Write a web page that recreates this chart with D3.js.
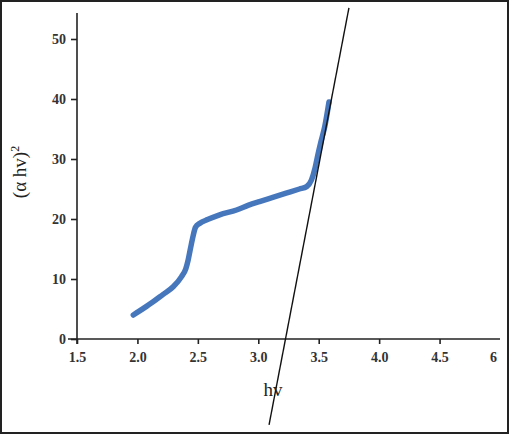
<!DOCTYPE html>
<html><head><meta charset="utf-8">
<script src="https://cdn.jsdelivr.net/npm/d3@7"></script>
<style>body{margin:0;background:#fff}svg{display:block}</style>
</head><body>
<svg id="c" width="510" height="435"></svg>
<script>
const xTicks = [1.5, 2.0, 2.5, 3.0, 3.5, 4.0, 4.5, 5.0];
const xTickLabels = ["1.5", "2.0", "2.5", "3.0", "3.5", "4.0", "4.5", "6"];
const yTicks = [0, 10, 20, 30, 40, 50];
const curveX = [1.966, 2.05, 2.13, 2.21, 2.296, 2.365, 2.40, 2.42, 2.44, 2.46, 2.48, 2.517, 2.58, 2.68, 2.82, 2.92, 3.01, 3.12, 3.23, 3.34, 3.40, 3.44, 3.47, 3.49, 3.52, 3.55, 3.585];
const curveY = [4.0, 5.1, 6.2, 7.4, 8.7, 10.4, 11.7, 13.2, 15.2, 17.1, 18.6, 19.3, 19.9, 20.7, 21.5, 22.3, 22.9, 23.6, 24.3, 25.0, 25.4, 26.5, 28.5, 30.4, 33.0, 35.4, 39.5];
const tangentX = [3.089, 3.75];
const tangentY = [-14.3, 55.2];

const svg = d3.select("#c");
const x = d3.scaleLinear().domain([1.5, 5.0]).range([77, 500]);
const y = d3.scaleLinear().domain([0, 50]).range([339, 39]);

svg.append("rect").attr("x",1).attr("y",1).attr("width",507).attr("height",432)
  .attr("fill","#fff").attr("stroke","#222").attr("stroke-width",2);

const font = "'Liberation Serif', 'Times New Roman', serif";

// axes
const xa = svg.append("g").attr("transform","translate(0,339)")
  .call(d3.axisBottom(x).tickValues(xTicks).tickFormat((d,i)=>xTickLabels[i]).tickSize(5).tickSizeOuter(0));
xa.select(".domain").attr("d","M68,0H500").attr("stroke","#222").attr("stroke-width",1.6);
xa.selectAll(".tick line").attr("stroke","#222").attr("stroke-width",1.6);
xa.selectAll(".tick").filter(d=>d===5.0).select("line").remove();
xa.selectAll(".tick").filter(d=>d===5.0).select("text").attr("x",-7);
xa.selectAll("text").attr("font-family",font).attr("font-size",14).attr("font-weight","bold")
  .attr("fill","#333").attr("dy","1.05em");

const ya = svg.append("g").attr("transform","translate(77,0)")
  .call(d3.axisLeft(y).tickValues(yTicks).tickSize(6).tickSizeOuter(0));
ya.select(".domain").attr("d","M0,13V344").attr("stroke","#222").attr("stroke-width",1.6);
ya.selectAll(".tick line").attr("stroke","#222").attr("stroke-width",1.6);
ya.selectAll("text").attr("font-family",font).attr("font-size",14).attr("font-weight","bold")
  .attr("fill","#333").attr("x",-11);

// curve
const pts = curveX.map((v,i)=>[v, curveY[i]]);
svg.append("path").datum(pts)
  .attr("d", d3.line().x(d=>x(d[0])).y(d=>y(d[1])).curve(d3.curveMonotoneX))
  .attr("fill","none").attr("stroke","#4677bd").attr("stroke-width",5.5)
  .attr("stroke-linecap","round").attr("stroke-linejoin","round");

// tangent line
const tp = tangentX.map((v,i)=>[v, tangentY[i]]);
svg.append("path").datum(tp)
  .attr("d", d3.line().x(d=>x(d[0])).y(d=>y(d[1])))
  .attr("stroke","#111").attr("stroke-width",1.4).attr("fill","none");

// labels
svg.append("text").attr("x",273).attr("y",396).attr("text-anchor","middle")
  .attr("font-family",font).attr("font-size",19).attr("fill","#222").text("hv");
svg.append("text").attr("transform","translate(26,172) rotate(-90)").attr("text-anchor","middle")
  .attr("font-family",font).attr("font-size",19).attr("fill","#222")
  .html("(α hv)<tspan dy='-7' font-size='12'>2</tspan>");
</script>
</body></html>
